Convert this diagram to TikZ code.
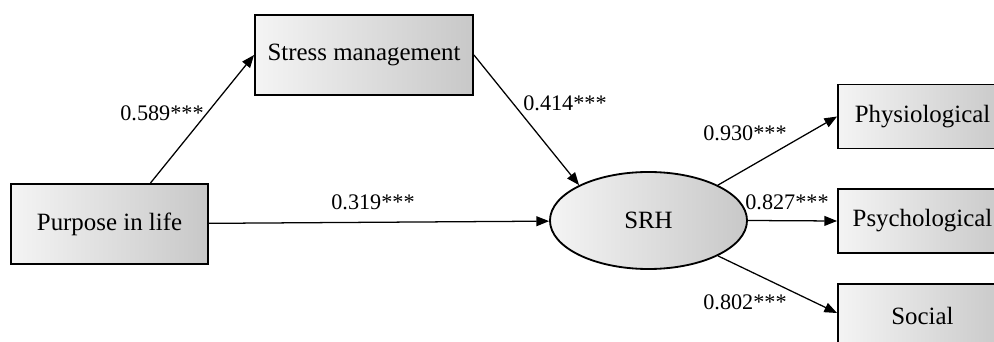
\documentclass[tikz,border=0pt]{standalone}
\usepackage{fontspec}
\setmainfont{Liberation Serif}
\usetikzlibrary{arrows.meta,shapes.geometric}
\definecolor{boxlight}{RGB}{244, 244, 244}
\definecolor{boxdark}{RGB}{200, 200, 200}

\tikzset{
  box/.style={draw, line width=1.3pt, left color=boxlight, right color=boxdark,
    font=\fontsize{17.7}{20}\selectfont, inner sep=0pt},
  link/.style={line width=0.9pt, -{Triangle[length=9pt,width=7pt]}},
  coef/.style={font=\fontsize{15.8}{18}\selectfont, inner sep=0pt}
}

\begin{document}
\begin{tikzpicture}[x=0.025cm, y=0.025cm]
\path[use as bounding box, clip] (0,0) rectangle (994,342);

% Variables
\node[box, minimum width=4.925cm, minimum height=2cm] (purpose) at (109.5,118) {Purpose in life};
\node[box, minimum width=5.45cm, minimum height=2cm] (stress) at (364,287) {Stress management};
\node[box, ellipse, minimum width=4.925cm, minimum height=2.425cm] (srh) at (648.5,121.5) {SRH};

% Indicators
\node[box, minimum width=4.225cm, minimum height=1.6cm] (phys) at (922.5,225.5) {Physiological};
\node[box, minimum width=4.225cm, minimum height=1.6cm] (psych) at (922.5,121) {Psychological};
\node[box, minimum width=4.225cm, minimum height=1.6cm] (social) at (922.5,26) {Social};

% Paths
\draw[link] (purpose.45) -- (stress.west);
\draw[link] (stress.east) -- (srh.153);
\draw[link] (purpose) -- (srh);
\draw[link] (srh.27) -- (phys.west);
\draw[link] (srh.east) -- (psych.west);
\draw[link] (srh.-27) -- (social.178);

% Coefficients
\node[coef] (c1) at (162,229) {0.589***};
\node[coef] (c2) at (373,140) {0.319***};
\node[coef] (c3) at (565,239) {0.414***};
\node[coef] (c4) at (745,209) {0.930***};
\node[coef] (c5) at (787,140) {0.827***};
\node[coef] (c6) at (745,40) {0.802***};
\end{tikzpicture}
\end{document}
